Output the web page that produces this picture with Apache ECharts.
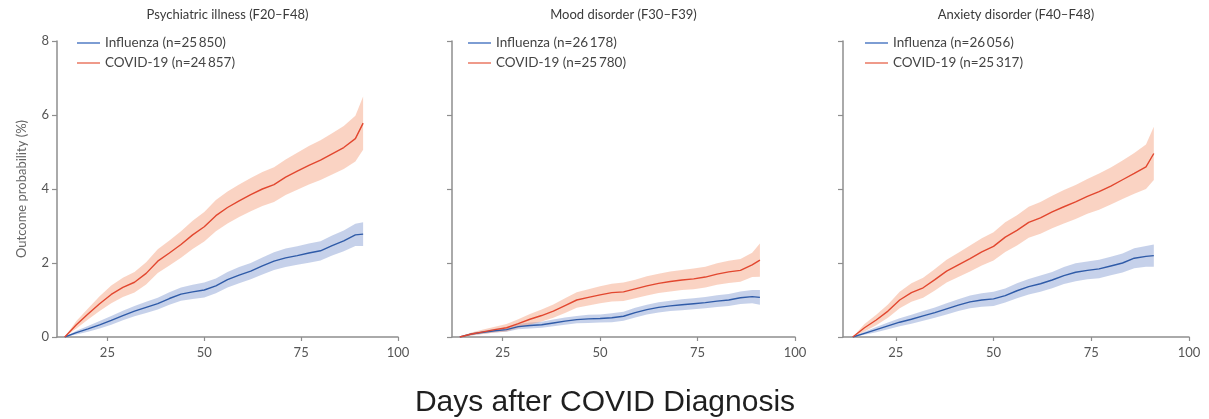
<!DOCTYPE html>
<html>
<head>
<meta charset="utf-8">
<script src="https://cdn.jsdelivr.net/npm/echarts@6/dist/echarts.min.js"></script>
<style>
  html, body { margin: 0; padding: 0; background: #fff; }
  #chart { width: 1209px; height: 419px; }
</style>
</head>
<body>
<div id="chart"></div>
<script>
// Cumulative outcome probability (%).
const DAYS = [14, 17, 20, 23, 26, 29, 32, 35, 38, 41, 44, 47, 50, 53, 56, 59, 62, 65, 68, 71, 74, 77, 80, 83, 86, 89, 91];
const X_TICKS = [25, 50, 75, 100];
const PANEL_TITLES = ["Psychiatric illness (F20–F48)", "Mood disorder (F30–F39)", "Anxiety disorder (F40–F48)"];
const FLU_NAMES = ["Influenza (n=25\u2009850)", "Influenza (n=26\u2009178)", "Influenza (n=26\u2009056)"];
const COVID_NAMES = ["COVID-19 (n=24\u2009857)", "COVID-19 (n=25\u2009780)", "COVID-19 (n=25\u2009317)"];
const Y_NAME = "Outcome probability (%)";
const X_NAME = "Days after COVID Diagnosis";

// Psychiatric illness
const psychCovid   = [0, 0.33, 0.62, 0.9, 1.15, 1.34, 1.48, 1.72, 2.05, 2.27, 2.5, 2.76, 2.98, 3.28, 3.5, 3.68, 3.85, 4.0, 4.12, 4.32, 4.48, 4.64, 4.78, 4.95, 5.12, 5.36, 5.78];
const psychCovidLo = [0, 0.23, 0.47, 0.7, 0.91, 1.08, 1.2, 1.42, 1.73, 1.93, 2.14, 2.38, 2.58, 2.86, 3.07, 3.24, 3.4, 3.54, 3.65, 3.84, 3.98, 4.12, 4.24, 4.39, 4.54, 4.74, 5.06];
const psychCovidHi = [0, 0.43, 0.77, 1.1, 1.39, 1.6, 1.76, 2.02, 2.37, 2.61, 2.86, 3.14, 3.38, 3.7, 3.93, 4.12, 4.3, 4.46, 4.59, 4.8, 4.98, 5.16, 5.32, 5.51, 5.7, 5.98, 6.5];
const psychFlu     = [0, 0.12, 0.22, 0.33, 0.45, 0.58, 0.7, 0.8, 0.9, 1.04, 1.16, 1.22, 1.27, 1.38, 1.55, 1.67, 1.78, 1.92, 2.05, 2.14, 2.2, 2.27, 2.33, 2.47, 2.6, 2.76, 2.78];
const psychFluLo   = [0, 0.07, 0.14, 0.23, 0.33, 0.45, 0.56, 0.65, 0.74, 0.87, 0.98, 1.03, 1.07, 1.18, 1.34, 1.45, 1.56, 1.69, 1.81, 1.89, 1.95, 2.01, 2.07, 2.2, 2.32, 2.46, 2.46];
const psychFluHi   = [0, 0.17, 0.3, 0.43, 0.57, 0.71, 0.84, 0.95, 1.06, 1.21, 1.34, 1.41, 1.47, 1.58, 1.76, 1.89, 2.0, 2.15, 2.29, 2.39, 2.45, 2.53, 2.59, 2.74, 2.88, 3.06, 3.1];

// Mood disorder
const moodCovid   = [0, 0.08, 0.14, 0.2, 0.25, 0.36, 0.48, 0.58, 0.7, 0.85, 1.0, 1.07, 1.14, 1.2, 1.22, 1.3, 1.38, 1.45, 1.5, 1.54, 1.57, 1.62, 1.7, 1.76, 1.8, 1.95, 2.08];
const moodCovidLo = [0, 0.04, 0.08, 0.12, 0.15, 0.24, 0.34, 0.42, 0.52, 0.65, 0.79, 0.85, 0.91, 0.96, 0.97, 1.05, 1.12, 1.19, 1.23, 1.27, 1.29, 1.34, 1.41, 1.46, 1.49, 1.62, 1.63];
const moodCovidHi = [0, 0.12, 0.2, 0.28, 0.35, 0.48, 0.62, 0.74, 0.88, 1.05, 1.21, 1.29, 1.37, 1.44, 1.47, 1.55, 1.64, 1.71, 1.77, 1.81, 1.85, 1.9, 1.99, 2.06, 2.11, 2.28, 2.53];
const moodFlu     = [0, 0.08, 0.13, 0.17, 0.2, 0.28, 0.31, 0.33, 0.38, 0.43, 0.47, 0.49, 0.5, 0.52, 0.56, 0.66, 0.74, 0.8, 0.84, 0.87, 0.9, 0.93, 0.97, 1.0, 1.06, 1.09, 1.07];
const moodFluLo   = [0, 0.05, 0.09, 0.12, 0.14, 0.21, 0.23, 0.25, 0.29, 0.33, 0.37, 0.38, 0.39, 0.4, 0.44, 0.53, 0.61, 0.66, 0.7, 0.72, 0.75, 0.78, 0.81, 0.84, 0.89, 0.91, 0.87];
const moodFluHi   = [0, 0.11, 0.17, 0.22, 0.26, 0.35, 0.39, 0.41, 0.47, 0.53, 0.57, 0.6, 0.61, 0.64, 0.68, 0.79, 0.87, 0.94, 0.98, 1.02, 1.05, 1.08, 1.13, 1.16, 1.23, 1.27, 1.27];

// Anxiety disorder
const anxCovid   = [0, 0.25, 0.46, 0.7, 1.0, 1.2, 1.33, 1.55, 1.78, 1.95, 2.12, 2.3, 2.45, 2.7, 2.88, 3.1, 3.22, 3.38, 3.52, 3.65, 3.8, 3.93, 4.08, 4.25, 4.42, 4.6, 4.96];
const anxCovidLo = [0, 0.15, 0.32, 0.52, 0.78, 0.95, 1.06, 1.26, 1.47, 1.62, 1.77, 1.93, 2.07, 2.3, 2.47, 2.68, 2.79, 2.94, 3.07, 3.19, 3.33, 3.44, 3.58, 3.73, 3.87, 4.0, 4.24];
const anxCovidHi = [0, 0.35, 0.6, 0.88, 1.22, 1.45, 1.6, 1.84, 2.09, 2.28, 2.47, 2.67, 2.83, 3.1, 3.29, 3.52, 3.65, 3.82, 3.97, 4.11, 4.27, 4.42, 4.58, 4.77, 4.97, 5.2, 5.68];
const anxFlu     = [0, 0.1, 0.2, 0.3, 0.4, 0.48, 0.57, 0.66, 0.76, 0.86, 0.95, 1.0, 1.03, 1.12, 1.25, 1.36, 1.44, 1.54, 1.66, 1.75, 1.8, 1.84, 1.92, 2.0, 2.13, 2.18, 2.2];
const anxFluLo   = [0, 0.06, 0.13, 0.21, 0.29, 0.36, 0.44, 0.52, 0.61, 0.7, 0.78, 0.82, 0.84, 0.93, 1.05, 1.15, 1.22, 1.32, 1.43, 1.51, 1.56, 1.59, 1.67, 1.74, 1.86, 1.9, 1.9];
const anxFluHi   = [0, 0.14, 0.27, 0.39, 0.51, 0.6, 0.7, 0.8, 0.91, 1.02, 1.12, 1.18, 1.22, 1.31, 1.45, 1.57, 1.66, 1.76, 1.89, 1.99, 2.04, 2.09, 2.17, 2.26, 2.4, 2.46, 2.5];

const PANELS = [
  { covid: psychCovid, covidLo: psychCovidLo, covidHi: psychCovidHi, flu: psychFlu, fluLo: psychFluLo, fluHi: psychFluHi },
  { covid: moodCovid, covidLo: moodCovidLo, covidHi: moodCovidHi, flu: moodFlu, fluLo: moodFluLo, fluHi: moodFluHi },
  { covid: anxCovid, covidLo: anxCovidLo, covidHi: anxCovidHi, flu: anxFlu, fluLo: anxFluLo, fluHi: anxFluHi },
];

// layout
const LAYOUT = [
  { left: 57, width: 341, xMin: 12, legendLeft: 77 },
  { left: 452, width: 343, xMin: 12, legendLeft: 468 },
  { left: 843, width: 346, xMin: 11.5, legendLeft: 865 },
];
const GRID_TOP = 41;
const GRID_H = 296;

const AXIS = "#8e8e8e";
const LABEL = "#555";
const BLUE = "#2f5ba8";
const RED = "#e2472f";
const BLUE_BAND = "rgba(96,128,196,0.36)";
const RED_BAND = "rgba(242,150,112,0.42)";
const BLUE_KEY = "#7d9dd3";
const RED_KEY = "#ef9a8a";
const FONT = "Lato, 'Open Sans', sans-serif";

function band(i, lo, hi, color) {
  return {
    type: "custom",
    xAxisIndex: i,
    yAxisIndex: i,
    silent: true,
    z: 1,
    encode: { x: 0, y: [1, 2] },
    data: DAYS.map((d, k) => [d, lo[k], hi[k]]),
    renderItem(params, api) {
      if (params.dataIndex !== 0) return;
      const top = DAYS.map((d, k) => api.coord([d, hi[k]]));
      const bottom = DAYS.map((d, k) => api.coord([d, lo[k]])).reverse();
      return { type: "polygon", shape: { points: top.concat(bottom) }, style: { fill: color } };
    },
  };
}

function line(i, name, values, color) {
  return {
    name,
    type: "line",
    xAxisIndex: i,
    yAxisIndex: i,
    showSymbol: false,
    silent: true,
    z: 3,
    lineStyle: { width: 1.4, color },
    itemStyle: { color },
    data: DAYS.map((d, k) => [d, values[k]]),
  };
}

const chart = echarts.init(document.getElementById("chart"));

const grid = [], xAxis = [], yAxis = [], legend = [], title = [], series = [];

LAYOUT.forEach((l, i) => {
  const p = PANELS[i];
  grid.push({ left: l.left, width: l.width, top: GRID_TOP, height: GRID_H });
  title.push({
    text: PANEL_TITLES[i],
    left: l.left + l.width / 2,
    textAlign: "center",
    top: 8,
    padding: 0,
    textStyle: { fontFamily: FONT, fontSize: 13, fontWeight: "normal", color: "#3a3a3a" },
  });
  xAxis.push({
    type: "value",
    gridIndex: i,
    min: l.xMin,
    max: 100,
    axisLine: { lineStyle: { color: AXIS, width: 1.5 } },
    axisTick: { customValues: X_TICKS, length: 4, lineStyle: { color: AXIS, width: 1.2 } },
    axisLabel: { customValues: X_TICKS, color: LABEL, fontFamily: FONT, fontSize: 13, margin: 9 },
    splitLine: { show: false },
  });
  yAxis.push({
    type: "value",
    gridIndex: i,
    min: 0,
    max: 8,
    interval: 2,
    name: i === 0 ? Y_NAME : "",
    nameLocation: "middle",
    nameGap: 29,
    nameTextStyle: { fontFamily: FONT, fontSize: 13, color: "#666" },
    axisLine: { show: true, lineStyle: { color: AXIS, width: 1.5 } },
    axisTick: { show: true, length: 5, lineStyle: { color: AXIS, width: 1.2 } },
    axisLabel: { show: i === 0, color: LABEL, fontFamily: FONT, fontSize: 13, margin: 8 },
    splitLine: { show: false },
  });
  legend.push({
    left: l.legendLeft,
    top: 36,
    padding: 0,
    orient: "vertical",
    itemWidth: 23,
    itemHeight: 2,
    itemGap: 6,
    icon: "rect",
    selectedMode: false,
    textStyle: { fontFamily: FONT, fontSize: 13.5, color: "#444", lineHeight: 14 },
    data: [
      { name: FLU_NAMES[i], itemStyle: { color: BLUE_KEY } },
      { name: COVID_NAMES[i], itemStyle: { color: RED_KEY } },
    ],
  });
  series.push(band(i, p.fluLo, p.fluHi, BLUE_BAND));
  series.push(band(i, p.covidLo, p.covidHi, RED_BAND));
  series.push(line(i, FLU_NAMES[i], p.flu, BLUE));
  series.push(line(i, COVID_NAMES[i], p.covid, RED));
});

title.push({
  text: X_NAME,
  left: 600,
  textAlign: "center",
  top: 383,
  textStyle: { fontFamily: "'Liberation Sans', Arial, sans-serif", fontSize: 30, fontWeight: "normal", color: "#1f1f1f" },
});

chart.setOption({
  animation: false,
  backgroundColor: "#fff",
  title,
  grid,
  xAxis,
  yAxis,
  legend,
  series,
});
</script>
</body>
</html>
